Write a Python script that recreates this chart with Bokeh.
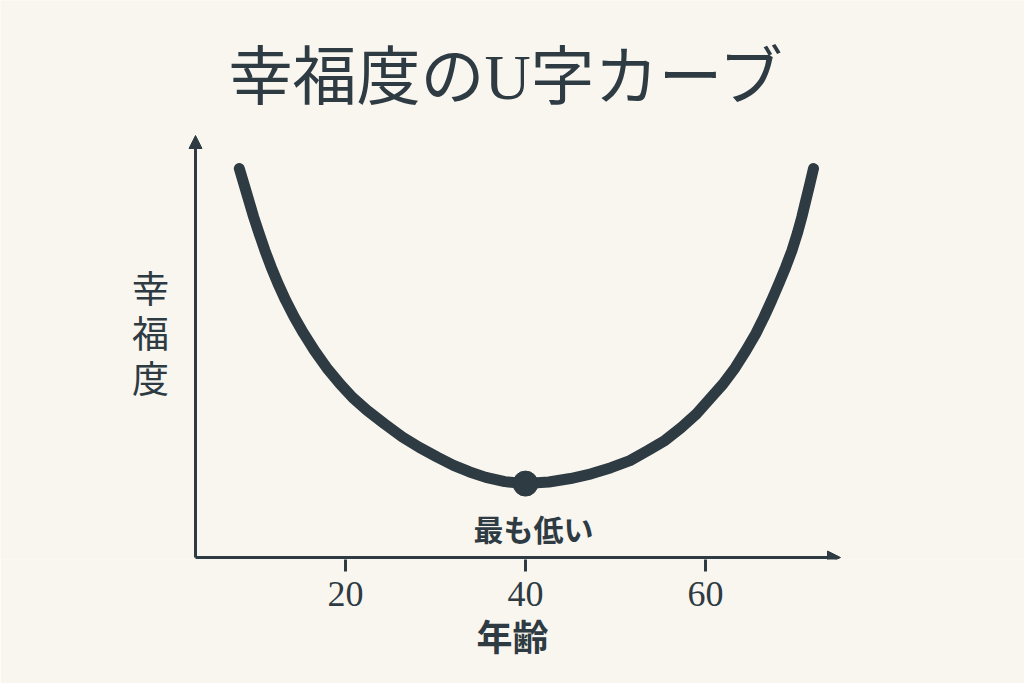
from bokeh.plotting import figure
from bokeh.models import Range1d, Arrow, NormalHead, Label, FixedTicker
from bokeh.embed import file_html
from bokeh.resources import INLINE

# ---- data ----
ages = [8.2, 8.7, 9.25, 9.8, 10.4, 11.05, 11.75, 12.5, 13.35, 14.3, 15.35, 16.55, 17.9, 19.4,
        20.8, 22.4, 24.3, 26.3, 28.2, 30.2, 32.0, 33.8, 35.6, 37.7, 40.0,
        42.6, 45.0, 47.3, 49.5, 51.6, 53.6, 55.5, 57.3, 59.0, 60.6, 61.95, 63.3, 64.5,
        65.6, 66.5, 67.35, 68.15, 68.9, 69.6, 70.2, 70.7, 71.15, 71.6, 72.0]
happiness = [100.0, 96.1, 91.8, 87.5, 83.3, 78.9, 74.6, 70.4, 66.1, 61.8, 57.6, 53.2, 48.8, 44.6,
             41.1, 37.8, 34.4, 31.0, 28.3, 25.8, 23.7, 22.0, 20.6, 19.5, 19.0,
             19.4, 20.3, 21.5, 23.1, 24.9, 27.5, 30.1, 33.4, 36.9, 41.1, 44.6, 48.8, 53.2,
             57.6, 61.8, 66.1, 70.4, 74.6, 78.9, 83.3, 87.5, 91.8, 96.1, 100.0]
min_age = [40.0]
min_happiness = [19.0]
x_ticks = [20, 40, 60]
title_text = "幸福度のU字カーブ"
y_label_chars = ["幸", "福", "度"]
x_label_text = "年齢"
min_label_text = "最も低い"

# ---- styling / layout ----
DARK = "#2e3b42"
BG = "#f9f6f0"
W, H = 1024, 683
PX_PER_YEAR = 9.0
AGE40_PX = 525.0          # px of age 40
PX_PER_UNIT = 3.89
ZERO_PX = 557.0           # px of happiness 0 (from top)
FRAME_BOTTOM = 559.0

x_range = Range1d(40 - AGE40_PX / PX_PER_YEAR, 40 + (W - AGE40_PX) / PX_PER_YEAR)
y_range = Range1d(-(FRAME_BOTTOM - ZERO_PX) / PX_PER_UNIT, ZERO_PX / PX_PER_UNIT)

def ax(px):   # px -> age
    return 40 + (px - AGE40_PX) / PX_PER_YEAR

def ay(py):   # px (from top) -> happiness
    return (ZERO_PX - py) / PX_PER_UNIT

p = figure(width=W, height=H, x_range=x_range, y_range=y_range,
           y_axis_type=None, output_backend="svg", toolbar_location=None)
p.min_border = 0
p.min_border_bottom = int(H - FRAME_BOTTOM)
p.background_fill_color = BG
p.border_fill_color = BG
p.outline_line_color = None
p.grid.visible = False

xa = p.xaxis[0]
xa.ticker = FixedTicker(ticks=x_ticks, minor_ticks=[])
xa.axis_line_color = None
xa.major_tick_line_color = DARK
xa.major_tick_line_width = 3
xa.major_tick_out = 12
xa.major_tick_in = 0
xa.minor_tick_line_color = None
xa.major_label_text_font = "Liberation Serif"
xa.major_label_text_font_size = "36px"
xa.major_label_text_color = DARK
xa.major_label_standoff = 10
xa.axis_label = x_label_text
xa.axis_label_text_font = "Noto Sans CJK JP"
xa.axis_label_text_font_size = "36px"
xa.axis_label_text_font_style = "bold"
xa.axis_label_text_color = DARK
xa.axis_label_standoff = 0

# axes with arrow heads
x0 = ax(195)
p.add_layout(Arrow(end=NormalHead(size=13, fill_color=DARK, line_color=DARK, line_width=1),
                   x_start=x0, y_start=0, x_end=ax(840), y_end=0,
                   line_color=DARK, line_width=3))
p.add_layout(Arrow(end=NormalHead(size=13, fill_color=DARK, line_color=DARK, line_width=1),
                   x_start=x0, y_start=0, x_end=x0, y_end=ay(135),
                   line_color=DARK, line_width=3))

# curve and minimum point
p.line(ages, happiness, line_color=DARK, line_width=11, line_cap="round", line_join="round")
p.scatter(min_age, min_happiness, size=25, fill_color=DARK, line_color=DARK)

# texts
p.add_layout(Label(x=ax(507), y=ay(77), text=title_text, text_align="center",
                   text_baseline="middle", text_font="Liberation Serif, Noto Sans CJK JP",
                   text_font_size="64px", text_color=DARK))
for i, ch in enumerate(y_label_chars):
    p.add_layout(Label(x=ax(150), y=ay(286 + 45 * i), text=ch, text_align="center",
                       text_baseline="middle", text_font="Noto Sans CJK JP",
                       text_font_size="37px", text_color=DARK))
p.add_layout(Label(x=min_age[0], y=ay(527), x_offset=8, text=min_label_text,
                   text_align="center", text_baseline="middle", text_font="Noto Sans CJK JP",
                   text_font_size="30px", text_font_style="bold", text_color=DARK))

open("out.html", "w").write(file_html(p, INLINE))
